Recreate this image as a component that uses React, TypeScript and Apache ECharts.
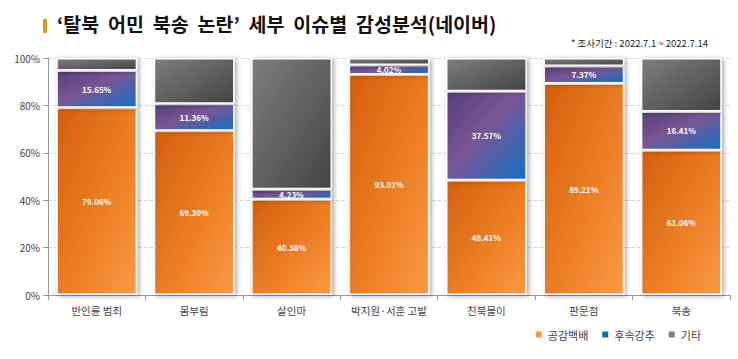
import React, { useEffect, useRef } from "react";
import * as echarts from "echarts";

const categories = ["반인륜 범죄", "몸부림", "살인마", "박지원·서훈 고발", "친북몰이", "판문점", "북송"];
const empathy = [79.06, 69.3, 40.38, 93.01, 48.41, 89.21, 61.06];
const emphasis = [15.65, 11.36, 4.23, 4.02, 37.57, 7.37, 16.41];
const others = [5.29, 19.34, 55.39, 2.97, 14.02, 3.42, 22.53];
const seriesNames = ["공감백배", "후속강추", "기타"];
const legendColors = ["#F79646", "#0070C0", "#7F7F7F"];
const yTicks = [0, 20, 40, 60, 80, 100];

const FONT = "'Noto Sans CJK KR', 'Noto Sans', sans-serif";

export default function App() {
  const ref = useRef<HTMLDivElement>(null);
  useEffect(() => {
    if (!ref.current) return;
    const chart = echarts.init(ref.current, undefined, { renderer: "svg" });
    const G = echarts.graphic.LinearGradient;
    const orange = new G(0, 0, 1, 1, [
      { offset: 0, color: "#D45E0C" },
      { offset: 0.6, color: "#EE8128" },
      { offset: 1, color: "#F99A45" },
    ]);
    const purple = new G(0, 0, 1, 1, [
      { offset: 0, color: "#553F78" },
      { offset: 0.45, color: "#7A5595" },
      { offset: 1, color: "#1170C4" },
    ]);
    const gray = new G(0, 0, 1, 1, [
      { offset: 0, color: "#7E7E7E" },
      { offset: 1, color: "#444444" },
    ]);
    const common = {
      type: "bar" as const,
      stack: "s",
      barCategoryGap: "17%",
    };
    const itemStyleBase = {
      borderColor: "#ffffff",
      borderWidth: 1.5,
      shadowColor: "rgba(0,0,0,0.35)",
      shadowBlur: 5,
      shadowOffsetX: 2,
      shadowOffsetY: 1,
    };
    const label = {
      show: true,
      position: "inside" as const,
      color: "#ffffff",
      fontSize: 8,
      fontWeight: "bold" as const,
      fontFamily: FONT,
      formatter: (p: any) => p.value.toFixed(2) + "%",
    };
    chart.setOption({
      animation: false,
      textStyle: { fontFamily: FONT },
      grid: { left: 48, right: 8, top: 58, bottom: 64, containLabel: false },
      graphic: [
        { type: "rect", shape: { x: 43, y: 19, width: 4, height: 14 }, style: { fill: "#D4A017" } },
        {
          type: "text",
          x: 57,
          y: 14,
          style: {
            text: "‘탈북  어민  북송  논란’  세부  이슈별  감성분석(네이버)",
            fontSize: 19.5,
            fontWeight: "bold",
            fill: "#111",
            fontFamily: FONT,
          },
        },
        {
          type: "text",
          x: 708,
          y: 38,
          style: {
            text: "* 조사기간 : 2022.7.1 ~ 2022.7.14",
            fontSize: 9.5,
            fill: "#222",
            align: "right",
            fontFamily: FONT,
          },
        },
      ],
      legend: {
        data: seriesNames.map((n, i) => ({ name: n, itemStyle: { color: legendColors[i] } })),
        right: 32,
        bottom: 14,
        itemWidth: 8,
        itemHeight: 8,
        itemGap: 12,
        icon: "rect",
        textStyle: { fontSize: 11, color: "#444", fontFamily: FONT },
      },
      xAxis: {
        type: "category",
        data: categories,
        axisLine: { lineStyle: { color: "#999" } },
        axisTick: { show: true, lineStyle: { color: "#999" } },
        axisLabel: { interval: 0, fontSize: 10.5, color: "#444", margin: 10, fontFamily: FONT },
      },
      yAxis: {
        type: "value",
        min: yTicks[0],
        max: yTicks[yTicks.length - 1],
        interval: 20,
        axisLine: { show: true, lineStyle: { color: "#999" } },
        axisTick: { show: true, lineStyle: { color: "#999" } },
        axisLabel: { fontSize: 10, color: "#444", formatter: "{value}%", fontFamily: FONT },
        splitLine: { lineStyle: { color: "#D9D9D9", type: "dashed" } },
      },
      series: [
        { ...common, name: seriesNames[0], data: empathy, itemStyle: { ...itemStyleBase, color: orange }, label },
        { ...common, name: seriesNames[1], data: emphasis, itemStyle: { ...itemStyleBase, color: purple }, label },
        { ...common, name: seriesNames[2], data: others, itemStyle: { ...itemStyleBase, color: gray }, label: { show: false } },
      ],
    });
    return () => chart.dispose();
  }, []);
  return <div ref={ref} style={{ position: "absolute", left: 0, top: 0, width: 738, height: 359 }} />;
}
